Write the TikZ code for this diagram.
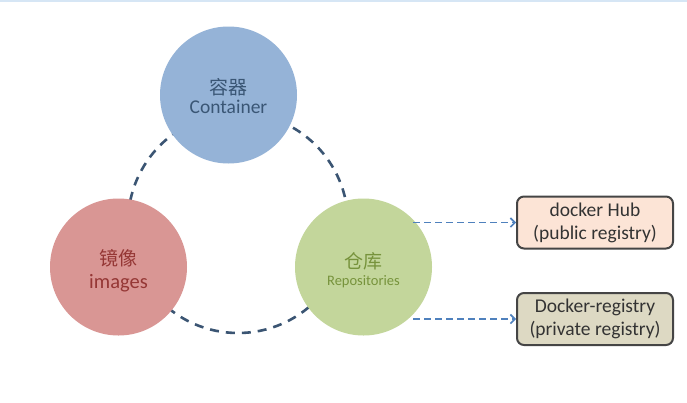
\documentclass[tikz,border=0pt]{standalone}
\usepackage{fontspec}
\setmainfont{Carlito}
\newfontfamily\cjk{Noto Sans CJK SC}
\usetikzlibrary{arrows.meta}
\definecolor{cblue}{HTML}{95B3D7}
\definecolor{cred}{HTML}{D99694}
\definecolor{cgreen}{HTML}{C3D69B}
\definecolor{tblue}{HTML}{3A5675}
\definecolor{tred}{HTML}{953735}
\definecolor{tgreen}{HTML}{77933C}
\definecolor{ringc}{HTML}{3B5573}
\definecolor{arrc}{HTML}{4F81BD}
\definecolor{hubfill}{HTML}{FCE4D6}
\definecolor{privfill}{HTML}{DDD9C3}
\definecolor{boxline}{HTML}{454545}
\definecolor{boxtext}{HTML}{333333}
\definecolor{topline}{HTML}{D6E6F5}
\tikzset{
  bigcircle/.style={circle, minimum size=137pt, inner sep=0pt},
  ring/.style={draw=ringc, line width=2.6pt, dash pattern=on 9pt off 7pt},
  linkarrow/.style={draw=arrc, line width=1.7pt, dash pattern=on 7pt off 4pt, -{Straight Barb[length=4.5pt,width=9pt,line width=1.6pt]}},
  regbox/.style={draw=boxline, line width=2pt, rounded corners=7pt, minimum width=156pt, minimum height=52pt, inner sep=0pt, align=center, text=boxtext, font=\fontsize{19.5}{23}\selectfont}
}
\begin{document}
\begin{tikzpicture}[x=1pt, y=-1pt]
\path[use as bounding box, fill=white] (0,0) rectangle (687,402);
\fill[topline] (0,0) rectangle (687,1.5);
% dashed ring
\draw[ring] (238,223) circle[radius=110];
% circles
\node[bigcircle, fill=cblue] (cont) at (228.5,95) {};
\node[bigcircle, fill=cred] (img) at (118.5,267) {};
\node[bigcircle, fill=cgreen] (repo) at (363.5,267) {};
% labels
\node[text=tblue, font=\cjk\fontsize{19}{22}\selectfont] (contcn) at (228.5,87) {容器};
\node[text=tblue, font=\fontsize{19.5}{22}\selectfont] (conten) at (228.5,107) {Container};
\node[text=tred, font=\cjk\fontsize{19}{22}\selectfont] (imgcn) at (118.5,258) {镜像};
\node[text=tred, font=\fontsize{20.5}{22}\selectfont] (imgen) at (118.5,283) {images};
\node[text=tgreen, font=\cjk\fontsize{19}{22}\selectfont] (repocn) at (363.5,261) {仓库};
\node[text=tgreen, font=\fontsize{14.5}{17}\selectfont] (repoen) at (363.5,282) {Repositories};
% boxes
\node[regbox, fill=hubfill] (hub) at (595,222.5) {docker Hub\\(public registry)};
\node[regbox, fill=privfill] (priv) at (595,319) {Docker-registry\\(private registry)};
% arrows
\coordinate (s1) at (413,222.5);
\coordinate (s2) at (413,319);
\draw[linkarrow] (s1) -- (hub.west);
\draw[linkarrow] (s2) -- (priv.west);
\end{tikzpicture}
\end{document}
